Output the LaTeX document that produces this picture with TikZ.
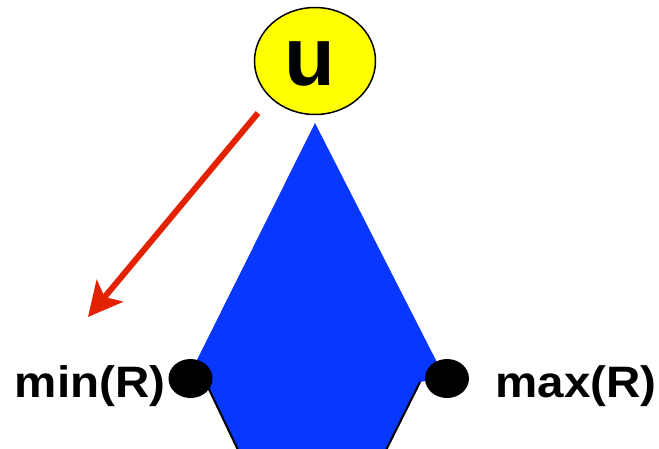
\documentclass[tikz,border=0pt]{standalone}
\usepackage{fontspec}
\setmainfont{Liberation Sans}
\usetikzlibrary{arrows.meta,shapes.geometric}
\definecolor{hexblue}{RGB}{8,56,255}
\definecolor{arrred}{RGB}{226,34,0}
\definecolor{nodeyellow}{RGB}{255,255,0}
\begin{document}
\begin{tikzpicture}[x=1pt,y=-1pt,
  labeltext/.style={font=\fontsize{44}{44}\selectfont\bfseries, inner sep=0pt, xscale=1.08, anchor=base},
  ulabel/.style={font=\fontsize{83}{83}\selectfont\bfseries, inner sep=0pt, anchor=base},
  unode/.style={ellipse, draw=black, fill=nodeyellow, line width=1.5pt, minimum width=121pt, minimum height=107pt, inner sep=0pt},
  enddot/.style={ellipse, fill=black, minimum width=44pt, minimum height=39pt, inner sep=0pt},
  edgeline/.style={draw=black, line width=2pt},
  redarrow/.style={draw=arrred, line width=6pt, -{Stealth[length=34pt,width=34pt,inset=8pt]}}]
\useasboundingbox (0,0) rectangle (659,448);
\clip (0,0) rectangle (659,448);
% blue shape
\coordinate (apex) at (315,123);
\coordinate (lv) at (188,378);
\coordinate (lb) at (206,383);
\coordinate (lbot) at (239,452);
\coordinate (rbot) at (385,452);
\coordinate (rb) at (420,382);
\coordinate (rv) at (445,378);
\fill[hexblue] (apex) -- (lv) -- (lb) -- (lbot) -- (rbot) -- (rb) -- (rv) -- cycle;
\draw[edgeline] (lb) -- (lbot);
\draw[edgeline] (rb) -- (rbot);
% dots
\node (mindot) [enddot] at (190.5,378.5) {};
\node (maxdot) [enddot] at (447,378.5) {};
% u node
\node (u) [unode] at (315,61) {};
\node (ut) [ulabel] at (310,85) {u};
% red arrow
\coordinate (as) at (258,113);
\coordinate (ae) at (88,317);
\draw[redarrow] (as) -- (ae);
% labels
\node (minl) [labeltext] at (90,397) {min(R)};
\node (maxl) [labeltext] at (576,397) {max(R)};
\end{tikzpicture}
\end{document}
